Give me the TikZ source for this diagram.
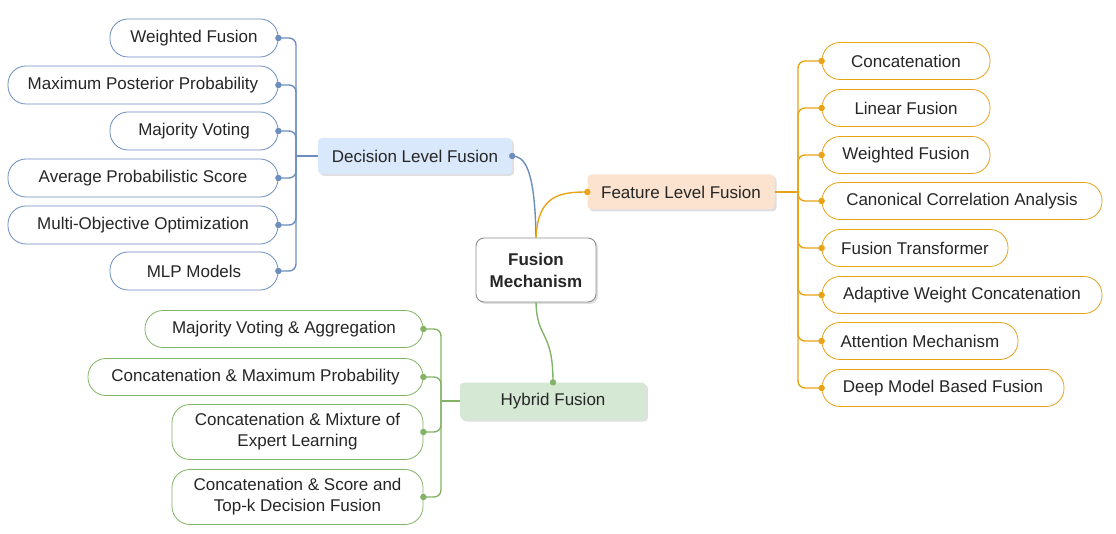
\documentclass[tikz,border=0pt]{standalone}
\usepackage{fontspec}
\setmainfont{Liberation Sans}
\usetikzlibrary{shadows}
\definecolor{bl}{HTML}{6C8EBF}\definecolor{blf}{HTML}{DAE8FC}
\definecolor{or}{HTML}{E8A317}\definecolor{orf}{HTML}{FBE3CF}
\definecolor{gr}{HTML}{82B366}\definecolor{grf}{HTML}{D5E8D4}
\begin{document}
\begin{tikzpicture}[x=1pt,y=-1pt,
  every node/.style={font=\fontsize{17}{21}\selectfont, text=black!85, inner sep=0pt, align=center},
  leaf/.style={draw=#1, line width=0.8pt, rounded corners=18pt, fill=white},
  mid/.style={draw=none, fill=#1, rounded corners=4pt, drop shadow={opacity=0.25,shadow xshift=2pt,shadow yshift=-2pt}},
  con/.style={draw=#1, line width=1.4pt, rounded corners=7pt},
  dot/.style={fill=#1, draw=none, circle, minimum size=6.5pt}]
\useasboundingbox (0,0) rectangle (1116,534);
% center
\node[draw=black!45, line width=0.9pt, fill=white, rounded corners=8pt, minimum width=120pt, minimum height=64pt, font=\fontsize{17}{22}\selectfont\bfseries, drop shadow={opacity=0.25,shadow xshift=2pt,shadow yshift=-2pt}] (c) at (536,270) {Fusion\\Mechanism};
% mids
\node[mid=blf, minimum width=194pt, minimum height=36pt] (d) at (415,156) {Decision Level Fusion};
\node[mid=orf, minimum width=187pt, minimum height=35pt] (f) at (681,192) {Feature Level Fusion};
\node[mid=grf, minimum width=186pt, minimum height=37pt] (h) at (553,401) {Hybrid Fusion};
\draw[con=bl] (c.north) .. controls (535,170) and (525,156) .. (d.east);
\fill[bl] (d.east) circle (3.2pt);
\draw[con=or] (c.north) .. controls (538,195) and (560,192) .. (f.west);
\fill[or] (f.west) circle (3.2pt);
\draw[con=gr] (c.south) .. controls (537,340) and (553,330) .. (h.north);
\fill[gr] (h.north) circle (3.2pt);
% decision leaves
\coordinate (db) at (296,156);
\draw[con=bl] (d.west) -- (db);
\foreach \n/\xl/\y/\t in {d1/110/38/Weighted Fusion, d2/8/85/Maximum Posterior Probability, d3/110/131/Majority Voting, d4/8/178/Average Probabilistic Score, d5/8/225/Multi-Objective Optimization, d6/110/271/MLP Models}{
  \node[leaf=bl, minimum width={278-\xl}, minimum height=38pt] (\n) at ({(278+\xl)/2},\y) {\t};
  \draw[con=bl] (db) |- (\n.east);
  \node[dot=bl] at (\n.east) {};
}
% feature leaves
\coordinate (fb) at (798,192);
\draw[con=or] (f.east) -- (fb);
\foreach \n/\xr/\y/\t in {f1/990/61/Concatenation, f2/990/108/Linear Fusion, f3/990/155/Weighted Fusion, f4/1102/201/Canonical Correlation Analysis, f5/1008/248/Fusion Transformer, f6/1102/295/Adaptive Weight Concatenation, f7/1018/341/Attention Mechanism, f8/1064/388/Deep Model Based Fusion}{
  \node[leaf=or, minimum width={\xr-822}, minimum height=37pt] (\n) at ({(\xr+822)/2},\y) {\t};
  \draw[con=or] (fb) |- (\n.west);
  \node[dot=or] at (\n.west) {};
}
% hybrid leaves
\coordinate (hb) at (441,401);
\draw[con=gr] (h.west) -- (hb);
\foreach \n/\xl/\y/\hh/\t in {h1/145/329/37/Majority Voting \& Aggregation, h2/88/377/37/Concatenation \& Maximum Probability, h3/172/432/55/{Concatenation \& Mixture of\\Expert Learning}, h4/172/497/55/{Concatenation \& Score and\\Top-k Decision Fusion}}{
  \node[leaf=gr, minimum width={423-\xl}, minimum height=\hh] (\n) at ({(423+\xl)/2},\y) {\t};
  \draw[con=gr] (hb) |- (\n.east);
  \node[dot=gr] at (\n.east) {};
}
\end{tikzpicture}
\end{document}
